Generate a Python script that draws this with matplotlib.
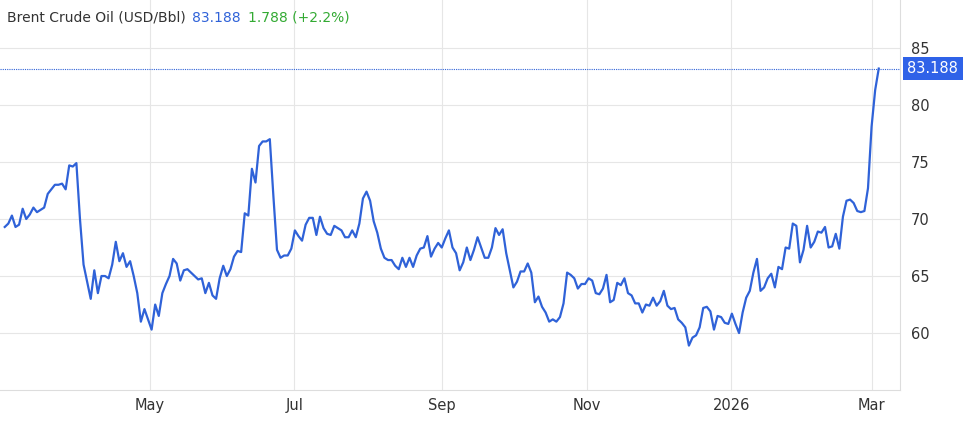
import matplotlib
matplotlib.use("Agg")
import matplotlib.pyplot as plt
import pandas as pd

# D A T A ##############################################################################################################
prices = [
    69.3, 69.6, 70.3, 69.3, 69.5, 70.9, 70.0, 70.4, 71.0, 70.6, 70.8, 71.0, 72.2, 72.6, 73.0, 73.0, 73.1, 72.6,
    74.7, 74.6, 74.9, 70.0, 66.0, 64.5, 63.0, 65.5, 63.5, 65.0, 65.0, 64.8, 66.0, 68.0, 66.3, 67.0, 65.8, 66.3,
    65.0, 63.5, 61.0, 62.1, 61.2, 60.3, 62.5, 61.5, 63.5, 64.3, 65.0, 66.5, 66.1, 64.6, 65.5, 65.6, 65.3, 65.0,
    64.7, 64.8, 63.5, 64.4, 63.3, 63.0, 64.8, 65.9, 65.0, 65.6, 66.7, 67.2, 67.1, 70.5, 70.3, 74.4, 73.2, 76.4,
    76.8, 76.8, 77.0, 72.0, 67.3, 66.6, 66.8, 66.8, 67.4, 69.0, 68.5, 68.1, 69.5, 70.1, 70.1, 68.6, 70.2, 69.2,
    68.7, 68.6, 69.4, 69.2, 69.0, 68.4, 68.4, 69.0, 68.4, 69.6, 71.8, 72.4, 71.6, 69.8, 68.8, 67.4, 66.6, 66.4,
    66.4, 65.9, 65.6, 66.6, 65.8, 66.6, 65.8, 66.8, 67.4, 67.5, 68.5, 66.7, 67.4, 67.9, 67.5, 68.3, 69.0, 67.5,
    67.0, 65.5, 66.2, 67.5, 66.4, 67.3, 68.4, 67.5, 66.6, 66.6, 67.5, 69.2, 68.6, 69.1, 67.0, 65.5, 64.0, 64.5,
    65.4, 65.4, 66.1, 65.3, 62.7, 63.2, 62.3, 61.8, 61.0, 61.2, 61.0, 61.4, 62.6, 65.3, 65.1, 64.8, 63.9, 64.3,
    64.3, 64.8, 64.6, 63.5, 63.4, 63.9, 65.1, 62.7, 62.9, 64.4, 64.2, 64.8, 63.5, 63.3, 62.6, 62.6, 61.8, 62.5,
    62.4, 63.1, 62.4, 62.8, 63.7, 62.4, 62.1, 62.2, 61.2, 60.9, 60.5, 58.9, 59.6, 59.8, 60.5, 62.2, 62.3, 61.9,
    60.3, 61.5, 61.4, 60.9, 60.8, 61.7, 60.8, 60.0, 61.8, 63.1, 63.7, 65.3, 66.5, 63.7, 64.0, 64.8, 65.2, 64.0,
    65.8, 65.6, 67.5, 67.4, 69.6, 69.4, 66.2, 67.3, 69.4, 67.5, 68.0, 68.9, 68.8, 69.3, 67.5, 67.6, 68.7, 67.4,
    70.2, 71.6, 71.7, 71.4, 70.7, 70.6, 70.7, 72.7, 78.1, 81.3, 83.188,
]
start_date = "2025-03-01"
end_date = "2026-03-04"
last_value = 83.188
change = "1.788 (+2.2%)"
y_ticks = [60, 65, 70, 75, 80, 85]
x_ticks = ["2025-05-01", "2025-07-01", "2025-09-01", "2025-11-01", "2026-01-01", "2026-03-01"]
x_labels = ["May", "Jul", "Sep", "Nov", "2026", "Mar"]

LINE_COLOR = "#2f62d8"
GRID_COLOR = "#e6e6e6"

# observations spread evenly over the shown period
dates = pd.date_range(start=start_date, end=end_date, periods=len(prices))

# P L O T ##############################################################################################################
fig = plt.figure(figsize=(9.71, 4.24), dpi=100)
ax = fig.add_axes([0.0, 0.08, 0.927, 0.92])

ax.plot(dates, prices, color=LINE_COLOR, lw=1.6, zorder=3)
ax.axhline(last_value, color=LINE_COLOR, lw=0.8, ls=(0, (1, 1)), zorder=2)

ax.set_ylim(55.0, 89.2)
ax.set_xlim(pd.Timestamp("2025-02-27"), pd.Timestamp("2026-03-13"))

ax.yaxis.tick_right()
ax.set_yticks(y_ticks)
ax.set_xticks(pd.to_datetime(x_ticks))
ax.set_xticklabels(x_labels)
ax.tick_params(axis="both", length=0, labelsize=10.5, colors="#333333")
ax.tick_params(axis="y", pad=8)
ax.tick_params(axis="x", pad=6)
ax.grid(True, color=GRID_COLOR, lw=0.8)

for side in ["top", "left"]:
    ax.spines[side].set_visible(False)
ax.spines["right"].set_color("#dddddd")
ax.spines["bottom"].set_color("#dddddd")

# title line, chained pieces
t1 = ax.text(0.008, 0.955, "Brent Crude Oil (USD/Bbl)", transform=ax.transAxes, fontsize=10,
             color="#333333", va="center", ha="left")
t2 = ax.annotate(f"{last_value}", xy=(1, 0.5), xycoords=t1, xytext=(4, 0), textcoords="offset points",
                 fontsize=10, color=LINE_COLOR, va="center", ha="left")
ax.annotate(change, xy=(1, 0.5), xycoords=t2, xytext=(6, 0), textcoords="offset points",
            fontsize=10, color="#33aa33", va="center", ha="left")

# last value box
ax.text(1.008, last_value, f"{last_value}", transform=ax.get_yaxis_transform(), fontsize=10.5, color="white",
        va="center", ha="left",
        bbox=dict(boxstyle="square,pad=0.3", facecolor="#2f62e8", edgecolor="none"))

fig.savefig("out.png", dpi=100)
